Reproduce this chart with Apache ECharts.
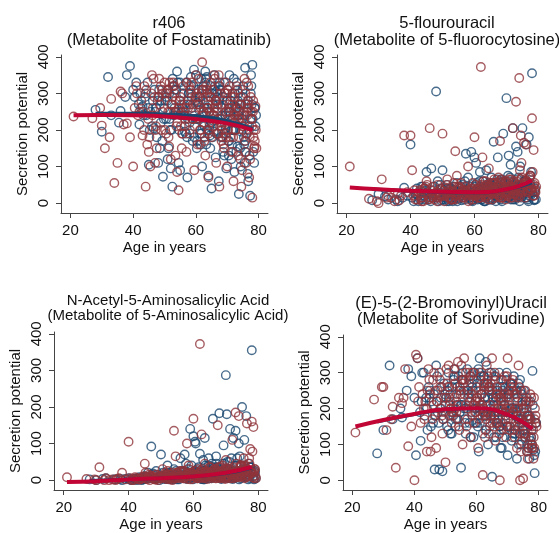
<!DOCTYPE html>
<html>
<head>
<meta charset="UTF-8">
<title>Secretion potential by age</title>
<script src="https://cdn.jsdelivr.net/npm/echarts@6/dist/echarts.min.js"></script>
<style>
  html, body { margin: 0; padding: 0; background: #fff; }
  #chart { width: 559px; height: 533px; }
</style>
</head>
<body>
<div id="chart"></div>
<script>
// ages of the two groups (same subjects in every panel)
var ageBlue = [
  28,30,32,33,36,38,39,40,40.5,41,
  42,43,44,45,46,46.5,47,47.5,48,48.5,
  49,49.5,50,50.5,51,51.5,52,52.5,53,53.5,
  54,54.5,55,55.5,56,56.5,57,57.3,57.7,58,
  58.4,58.8,59,59.4,59.8,60,60.3,60.7,61,61.3,
  61.7,62,62.3,62.7,63,63.3,63.7,64,64.3,64.7,
  65,65.3,65.7,66,66.3,66.7,67,67.3,67.7,68,
  68.3,68.7,69,69.3,69.7,70,70.3,70.7,71,71.3,
  71.7,72,72.3,72.7,73,73.3,73.7,74,74.3,74.7,
  75,75.3,75.7,76,76.3,76.7,77,77.3,77.7,78,
  78.3,78.7,79,60.5,62.5,64.5,66.5,68.5,70.5,72.5,
  74.5,76.5,63.5,65.5,67.5,69.5,71.5,73.5,75.5,77.5,
  50.2,51.2,52.2,53.2,54.2,55.2,56.2,57.2,58.2,59.2,
  60.1,60.6,61.1,61.6,62.1,62.6,63.1,63.6,64.1,64.6,
  65.1,65.6,66.1,66.6,67.1,67.6,68.1,68.6,69.1,69.6,
  70.1,70.6,71.1,71.6,72.1,72.6,73.1,73.6,74.1,74.6,
  75.1,75.6,76.1,76.6,77.1,77.6,78.1,78.6,55.8,57.8,
  59.6,61.4,63.4,65.4,67.4,69.4,71.4,73.4,75.4,77.4,
  60.9,62.9,64.9,66.9,68.9,70.9,72.9,74.9,76.9,78.9,
  56.6,58.6,60.4,62.4,64.4,66.4,68.4,70.4,72.4,74.4,
  76.4,45.5,47.8,49.8,51.8,53.8,44.2,42.5,37.5,35.5,
  61.8,63.8,65.8,67.8,69.8,71.8,73.8,75.8,77.8,79.2,
  42.3,43.3,44.6,45.3,46.3,47.3,48.3,49.3,50.6,51.6,
  52.6,53.6,54.6,55.6,56.3,57.5,58.5,59.5,44.8,46.8,
  48.8,50.9,52.9,54.9,56.9,41.8,43.8,55.3,53.3,51.3
];
var ageRed = [
  21,27,30,31,33,34,35,36,37,38,
  39,40,40.5,41,42,43,44,44.5,45,45.5,
  46,46.5,47,47.5,48,48.5,49,49.5,50,50.5,
  51,51.5,52,52.5,53,53.5,54,54.5,55,55.5,
  56,56.5,57,57.5,58,58.5,59,59.5,60,60.5,
  61,61.5,62,62.5,63,63.5,64,64.5,65,65.5,
  66,66.5,67,67.5,68,68.5,69,69.5,70,70.5,
  71,71.5,72,72.5,73,73.5,74,74.5,75,75.5,
  76,76.5,77,77.5,78,78.5,79,79.3,60.2,62.2,
  64.2,66.2,68.2,70.2,72.2,74.2,76.2,78.2,61.2,63.2,
  65.2,67.2,69.2,71.2,73.2,75.2,77.2,57.2,59.2,55.2,
  53.2,51.2,49.2,47.2,45.2,58.7,62.7,66.7,70.7,74.7,
  78.7,77.7,76.7,75.7,73.7,71.7,69.7,67.7,65.7,63.7,
  50.8,51.8,52.8,53.8,54.8,55.8,56.8,57.8,58.8,59.8,
  60.3,60.8,61.3,61.8,62.3,62.8,63.3,63.8,64.3,64.8,
  65.3,65.8,66.3,66.8,67.3,67.8,68.3,68.8,69.3,69.8,
  70.3,70.8,71.3,71.8,72.3,72.8,73.3,73.8,74.3,74.8,
  75.3,75.8,76.3,76.8,77.3,77.8,78.3,78.8,56.3,58.3,
  60.6,62.6,64.6,66.6,68.6,70.6,72.6,74.6,76.6,78.6,
  61.6,63.6,65.6,67.6,69.6,71.6,73.6,75.6,77.6,79.1,
  57.6,59.6,61.9,63.9,65.9,67.9,69.9,71.9,73.9,75.9,
  77.9,46.8,48.8,43.5,41.5,52.3,54.3,36.5,32.5,29.5,
  60.9,62.4,64.4,66.4,68.4,70.4,72.4,74.4,76.4,78.4,
  42.6,43.6,44.8,45.8,46.3,47.3,48.3,49.3,50.3,51.3,
  52.1,53.1,54.1,55.1,56.1,57.1,58.1,59.1,44.2,46.2,
  48.2,50.2,52.6,54.6,56.6,41.2,43.2,55.6,53.6,51.6
];

// r406 (Metabolite of Fostamatinib)
var r406Blue = [
  255,195,345,240,252,350,375,310,290,330,
  215,265,300,105,210,205,250,180,110,150,
  280,72,260,230,120,300,95,45,320,250,
  360,110,90,270,240,195,330,70,300,220,
  345,260,170,365,280,230,150,310,255,190,
  340,100,280,210,360,160,300,75,250,320,
  40,270,195,350,125,290,230,60,310,180,
  260,140,330,215,95,280,170,350,240,120,
  300,200,85,260,330,155,25,270,100,230,
  290,180,370,140,250,60,210,20,320,378,
  140,260,210,275,215,185,305,240,130,265,
  195,80,345,225,285,205,160,240,110,300,
  280,310,200,260,330,240,300,180,270,320,
  350,230,290,160,310,260,340,200,280,150,
  300,240,320,190,270,330,210,290,130,250,
  310,170,280,230,340,200,260,300,150,270,
  320,240,190,280,130,350,230,110,260,300,
  210,290,250,180,320,240,200,280,160,230,
  270,330,220,300,190,250,140,310,200,260,
  240,290,170,320,210,280,180,250,300,220,
  270,250,280,230,200,310,240,260,290,220,
  190,260,310,230,280,200,250,170,270,240,
  300,240,330,200,280,260,310,170,290,230,
  340,250,200,300,270,230,320,180,260,310,
  220,280,240,330,190,270,290,250,310,150
];
var r406Red = [
  237,232,212,150,285,55,110,305,215,218,
  180,100,260,320,250,185,45,160,140,100,
  350,340,110,150,290,270,200,300,330,190,
  310,155,120,290,250,130,85,35,280,150,
  320,210,140,260,190,300,230,90,350,160,
  270,200,385,250,130,310,70,290,180,230,
  340,110,260,45,300,220,150,330,100,250,
  180,290,60,240,320,130,270,45,200,340,
  110,260,70,290,15,200,265,150,300,240,
  200,280,170,310,230,120,330,250,160,290,
  240,190,300,140,260,210,180,270,230,210,
  300,250,310,200,180,330,170,270,230,90,
  155,230,320,140,255,300,180,210,350,260,
  300,250,330,210,280,190,260,320,230,290,
  270,340,200,300,250,180,320,260,220,290,
  310,240,280,190,350,230,270,160,300,250,
  200,320,260,140,290,230,310,180,270,210,
  250,300,190,260,120,230,280,170,240,310,
  290,220,330,250,180,270,200,240,280,150,
  260,300,210,320,190,270,230,170,250,200,
  280,240,310,190,260,220,300,180,230,270,
  210,290,320,200,240,270,250,300,180,260,
  230,310,250,280,200,260,220,290,240,180,
  280,320,230,300,260,210,340,250,300,180,
  270,320,220,290,250,330,200,270,310,240,
  290,200,320,260,230,300,250,190,280,330
];

// 5-flourouracil (Metabolite of 5-fluorocytosine)
var fluBlue = [
  8,25,18,10,5,42,20,160,15,5,
  40,10,30,85,25,95,15,45,305,60,
  20,8,90,35,15,50,5,30,10,45,
  25,55,12,40,8,30,60,135,20,70,
  15,45,140,5,30,125,20,55,10,40,
  85,25,15,60,5,35,90,20,45,10,
  30,70,15,168,40,5,55,125,20,35,
  10,60,190,25,45,287,15,130,35,105,
  20,205,50,10,155,40,70,25,100,15,
  205,45,60,30,160,10,180,50,85,355,
  20,8,40,110,30,50,20,65,75,25,
  35,15,40,10,25,55,30,140,60,20,
  10,25,40,5,30,15,50,20,35,8,
  45,15,30,60,10,25,5,40,20,55,
  30,10,45,20,65,15,35,5,50,25,
  40,15,70,30,10,55,20,45,5,35,
  25,60,15,40,20,75,30,10,45,25,
  15,35,5,50,20,40,10,65,30,55,
  20,45,10,35,25,60,15,40,5,30,
  35,20,50,10,40,25,55,15,45,20,
  30,10,25,40,15,35,20,5,15,10,
  45,25,55,30,15,40,20,50,35,10,
  20,45,10,30,5,35,15,50,25,10,
  40,20,5,30,15,45,25,10,35,20,
  5,40,15,30,10,25,45,20,35,5
];
var fluRed = [
  100,12,0,65,20,15,5,25,20,185,
  30,185,90,20,10,35,5,40,60,25,
  205,15,45,10,30,50,20,35,190,5,
  40,65,15,30,10,55,142,75,25,40,
  15,35,45,20,100,10,30,55,180,25,
  40,15,372,125,30,60,20,95,45,10,
  35,55,25,70,170,15,45,30,60,20,
  40,65,205,25,277,50,342,185,30,165,
  160,55,40,75,232,145,35,45,20,50,
  30,65,15,45,25,90,60,85,35,20,
  55,25,40,15,60,35,70,30,20,45,
  10,30,20,15,50,35,25,40,65,110,
  20,40,30,55,15,45,25,60,35,50,
  20,35,10,45,25,55,15,30,40,10,
  50,25,15,40,30,60,20,45,10,35,
  25,55,35,15,45,20,65,30,40,10,
  55,25,40,15,60,35,20,50,30,70,
  45,15,60,30,75,40,20,55,25,35,
  20,45,30,55,15,40,25,65,35,50,
  30,15,45,20,60,35,25,50,40,30,
  25,40,15,50,30,45,20,55,35,65,
  40,25,15,5,10,30,20,8,15,5,
  35,20,45,25,55,30,40,20,60,45,
  30,15,45,10,35,20,5,40,25,50,
  15,30,10,45,20,35,5,25,40,15,
  30,20,10,45,25,35,15,40,20,30
];

// N-Acetyl-5-Aminosalicylic Acid
var asaBlue = [
  2,0,3,5,2,0,3,5,1,0,
  4,2,0,10,20,5,92,18,3,25,
  5,0,70,10,3,15,40,2,20,8,
  30,5,15,2,60,10,25,70,45,3,
  15,8,140,40,2,120,25,100,5,30,
  10,72,20,3,55,15,40,8,30,60,
  5,25,45,168,10,30,65,35,15,183,
  20,5,45,95,10,287,180,30,15,140,
  60,25,115,5,135,40,10,100,65,20,
  200,30,110,10,175,15,45,5,25,355,
  10,2,25,105,15,25,35,8,50,20,
  5,30,115,10,20,45,8,60,15,35,
  5,10,20,3,15,8,25,12,30,5,
  20,8,15,35,5,12,2,25,10,40,
  15,5,20,10,45,8,25,3,30,15,
  20,5,50,12,3,30,10,25,2,20,
  15,40,8,25,10,35,20,5,10,15,
  8,20,2,30,10,25,5,40,15,35,
  10,25,5,20,15,30,8,25,2,20,
  12,5,25,3,20,10,30,8,25,12,
  15,8,5,12,3,10,2,0,3,2,
  25,10,35,15,8,20,10,30,20,5,
  3,8,2,10,5,15,3,8,20,5,
  12,2,25,8,15,5,20,10,3,8,
  15,5,10,2,20,3,5,12,8,15
];
var asaRed = [
  8,3,0,35,5,0,2,0,5,20,
  2,105,5,0,8,2,5,10,45,3,
  8,0,12,5,2,15,0,10,5,30,
  10,3,25,5,15,0,135,65,20,5,
  10,25,5,15,100,40,2,20,168,10,
  15,30,372,125,5,45,20,10,35,5,
  15,30,5,150,20,10,40,25,55,8,
  30,15,110,5,185,20,175,40,10,60,
  35,155,20,85,160,145,30,5,15,25,
  10,20,5,30,15,25,8,78,5,20,
  35,10,25,5,45,15,60,5,10,20,
  3,15,5,10,20,30,15,25,10,40,
  5,20,10,30,15,25,5,35,10,20,
  8,15,3,20,10,25,5,15,20,3,
  25,10,5,20,12,30,8,20,3,15,
  10,25,15,5,20,8,35,12,20,3,
  30,10,20,5,35,15,8,25,12,40,
  20,5,30,12,45,20,8,30,10,15,
  8,20,12,30,5,20,10,35,15,25,
  12,5,20,8,30,15,10,25,20,12,
  10,15,5,25,12,20,8,30,15,40,
  20,10,5,2,0,8,5,3,0,2,
  15,8,20,10,25,12,20,8,30,20,
  5,2,10,3,15,8,2,12,5,20,
  3,10,5,15,8,25,3,12,5,10,
  2,8,15,5,20,3,2,10,5,12
];

// (E)-5-(2-Bromovinyl)Uracil (Metabolite of Sorivudine)
var bvuBlue = [
  75,140,320,170,175,310,290,230,70,340,
  110,300,200,250,160,30,320,190,30,230,
  25,270,210,150,300,240,130,180,310,220,
  170,250,35,280,200,130,310,230,160,290,
  190,250,120,300,220,160,270,80,340,200,
  240,130,290,180,330,210,100,260,150,300,
  10,230,170,280,120,250,190,300,90,220,
  260,140,210,180,300,70,240,150,270,110,
  200,290,130,250,60,230,170,280,100,210,
  150,250,120,200,80,180,60,220,140,305,
  85,20,160,180,230,200,160,250,190,140,
  240,100,270,210,150,230,120,270,190,170,
  230,180,260,150,290,210,170,250,120,280,
  200,310,160,240,190,270,140,230,300,180,
  250,120,290,210,170,260,90,230,190,280,
  150,240,200,130,260,180,220,100,250,170,
  200,140,230,90,180,120,210,70,250,220,
  160,280,190,230,150,260,200,170,130,110,
  300,180,240,160,210,270,190,140,120,80,
  200,260,150,290,180,230,120,250,200,160,
  180,220,160,240,190,260,140,300,250,200,
  210,250,180,240,150,190,130,220,100,160,
  220,180,260,150,240,290,200,170,250,130,
  280,210,190,300,160,240,270,200,230,180,
  260,140,290,210,250,190,230,280,170,210
];
var bvuRed = [
  133,225,260,140,205,35,230,215,310,95,
  150,0,350,340,160,200,80,310,240,120,
  280,180,90,250,300,200,130,230,50,270,
  320,220,160,290,230,190,330,140,250,100,
  340,210,170,280,120,240,300,190,260,90,
  220,300,15,250,170,280,130,210,340,190,
  110,260,200,0,230,160,290,120,340,250,
  180,270,140,230,90,320,0,250,5,160,
  220,60,170,120,90,230,180,150,230,200,
  260,190,280,170,240,130,80,140,210,270,
  160,230,190,260,200,130,170,250,210,280,
  200,260,170,220,80,180,120,240,200,220,
  170,90,220,250,150,280,200,230,150,290,
  260,200,310,170,240,280,150,220,300,190,
  230,170,290,210,260,140,320,190,250,180,
  220,300,160,250,130,280,200,240,170,290,
  210,150,270,190,120,240,180,260,80,220,
  200,130,180,90,240,150,60,200,280,230,
  250,190,270,160,220,140,200,110,180,90,
  240,180,290,200,150,250,170,120,230,160,
  300,220,180,260,200,140,240,190,160,210,
  100,250,180,220,260,190,150,230,170,260,
  200,270,160,240,190,230,150,200,170,120,
  240,200,280,170,300,220,260,190,310,230,
  180,270,210,320,240,200,290,160,250,210,
  280,230,190,260,300,220,170,270,240,200
];

// fitted curves
var fitAgeRed = [21,30,40,50,60,70,78];
var fitAgeBlue = [28,40,50,60,70,78];
var r406FitRed = [240,241,240,237,230,218,200];
var r406FitBlue = [245,245,243,238,225,203];
var fluFitRed = [43,38,34,31,30,38,62];
var fluFitBlue = [38,33,30,29,37,56];
var asaFitRed = [-5,-3,2,5,10,20,36];
var asaFitBlue = [-2,2,5,10,19,34];
var bvuFitRed = [150,168,185,198,201,183,143];
var bvuFitBlue = [163,184,197,200,182,142];

var titles = [
  'r406\n(Metabolite of Fostamatinib)',
  '5-flourouracil\n(Metabolite of 5-fluorocytosine)',
  'N-Acetyl-5-Aminosalicylic Acid\n(Metabolite of 5-Aminosalicylic Acid)',
  '(E)-5-(2-Bromovinyl)Uracil\n(Metabolite of Sorivudine)'
];
var xTicks = [20, 40, 60, 80];
var yTicks = [0, 100, 200, 300, 400];

var BLUE = '#1a476f', RED = '#90353b', FIT = '#c10534';
var FONT = '"Liberation Sans", Arial, sans-serif';

var grids = [
  { left: 61, top: 55, width: 207, height: 158 },
  { left: 337, top: 55, width: 211, height: 158 },
  { left: 54, top: 332, width: 214, height: 160 },
  { left: 343, top: 335, width: 205, height: 158 }
];
var titlePos = [
  { x: 164, y: 10, size: 16.5, lh: 17 },
  { x: 442, y: 10, size: 16.5, lh: 17 },
  { x: 163, y: 289, size: 15, lh: 14.5 },
  { x: 446, y: 290, size: 16.5, lh: 16 }
];

function pairs(xs, ys) {
  return xs.map(function (x, i) { return [x, ys[i]]; });
}

var panels = [
  [r406Blue, r406Red, r406FitBlue, r406FitRed],
  [fluBlue, fluRed, fluFitBlue, fluFitRed],
  [asaBlue, asaRed, asaFitBlue, asaFitRed],
  [bvuBlue, bvuRed, bvuFitBlue, bvuFitRed]
];

var xAxes = [], yAxes = [], series = [], titleList = [];
panels.forEach(function (p, i) {
  xAxes.push({
    gridIndex: i, type: 'value', min: 17, max: 83,
    axisLine: { onZero: false, lineStyle: { color: '#444', width: 1 } },
    axisTick: { customValues: xTicks, length: 5, lineStyle: { color: '#444' } },
    axisLabel: { customValues: xTicks, fontSize: 15, color: '#111', margin: 10, fontFamily: FONT },
    splitLine: { show: false },
    name: 'Age in years', nameLocation: 'middle', nameGap: 27,
    nameTextStyle: { fontSize: 15, color: '#111', fontFamily: FONT }
  });
  yAxes.push({
    gridIndex: i, type: 'value', min: -27, max: 405,
    axisLine: { show: true, onZero: false, lineStyle: { color: '#444', width: 1 } },
    axisTick: { show: true, customValues: yTicks, length: 5, lineStyle: { color: '#444' } },
    axisLabel: { customValues: yTicks, rotate: 90, fontSize: 15, color: '#111', margin: 10, fontFamily: FONT },
    splitLine: { show: false },
    name: 'Secretion potential', nameLocation: 'middle', nameGap: 31,
    nameTextStyle: { fontSize: 15, color: '#111', fontFamily: FONT }
  });
  titleList.push({
    text: titles[i], left: titlePos[i].x, top: titlePos[i].y, textAlign: 'center',
    textStyle: { fontSize: titlePos[i].size, fontWeight: 'normal', color: '#111',
      lineHeight: titlePos[i].lh, fontFamily: FONT }
  });
  // hollow circles, blue group then red group
  series.push({
    type: 'scatter', xAxisIndex: i, yAxisIndex: i, symbol: 'circle', symbolSize: 8.5,
    itemStyle: { color: 'rgba(0,0,0,0)', borderColor: BLUE, borderWidth: 1.4 },
    data: pairs(ageBlue, p[0])
  });
  series.push({
    type: 'scatter', xAxisIndex: i, yAxisIndex: i, symbol: 'circle', symbolSize: 8.5,
    itemStyle: { color: 'rgba(0,0,0,0)', borderColor: RED, borderWidth: 1.4 },
    data: pairs(ageRed, p[1])
  });
  // fitted lines, red drawn on top
  series.push({
    type: 'line', xAxisIndex: i, yAxisIndex: i, smooth: true, showSymbol: false,
    lineStyle: { color: BLUE, width: 3.5 }, data: pairs(fitAgeBlue, p[2])
  });
  series.push({
    type: 'line', xAxisIndex: i, yAxisIndex: i, smooth: true, showSymbol: false,
    lineStyle: { color: FIT, width: 4 }, data: pairs(fitAgeRed, p[3])
  });
});

var chart = echarts.init(document.getElementById('chart'));
chart.setOption({
  animation: false,
  backgroundColor: '#fff',
  textStyle: { fontFamily: FONT },
  title: titleList,
  grid: grids,
  xAxis: xAxes,
  yAxis: yAxes,
  series: series
});
</script>
</body>
</html>
